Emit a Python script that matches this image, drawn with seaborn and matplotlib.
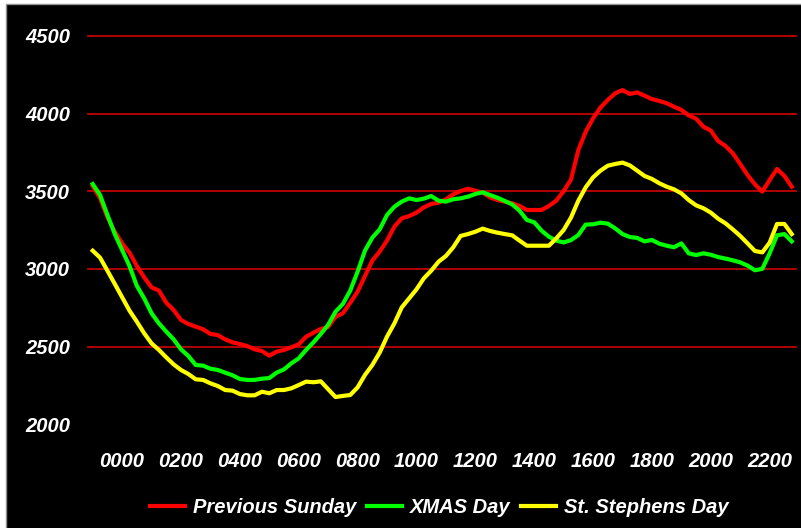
import numpy as np
import pandas as pd
import matplotlib
matplotlib.use("Agg")
import matplotlib.pyplot as plt
import seaborn as sns
from matplotlib.patches import Rectangle

# quarter-hour readings, 23:00 the evening before through 22:45
previous_sunday = [3533, 3454, 3332, 3239, 3164, 3104, 3018, 2945, 2881, 2860, 2782, 2735,
                   2671, 2645, 2628, 2611, 2581, 2574, 2546, 2527, 2516, 2503, 2482, 2471,
                   2441, 2467, 2478, 2495, 2514, 2563, 2589, 2613, 2626, 2692, 2714, 2782,
                   2853, 2954, 3053, 3111, 3182, 3272, 3325, 3340, 3362, 3396, 3418, 3426,
                   3448, 3480, 3501, 3516, 3503, 3491, 3460, 3443, 3433, 3422, 3405, 3379,
                   3379, 3379, 3405, 3439, 3500, 3575, 3765, 3883, 3969, 4038, 4087, 4130,
                   4151, 4126, 4136, 4115, 4093, 4081, 4066, 4044, 4023, 3988, 3967, 3915,
                   3890, 3823, 3791, 3744, 3675, 3604, 3544, 3497, 3572, 3643, 3598, 3529]
xmas_day = [3546, 3475, 3347, 3224, 3121, 3018, 2890, 2810, 2714, 2649, 2596, 2546,
            2482, 2439, 2381, 2377, 2357, 2349, 2332, 2315, 2291, 2285, 2285, 2293,
            2297, 2332, 2353, 2392, 2424, 2478, 2527, 2581, 2640, 2724, 2774, 2860,
            2982, 3117, 3201, 3254, 3347, 3400, 3433, 3454, 3443, 3452, 3469, 3439,
            3433, 3448, 3454, 3465, 3482, 3493, 3475, 3458, 3437, 3415, 3375, 3315,
            3300, 3246, 3207, 3182, 3170, 3185, 3218, 3285, 3287, 3297, 3291, 3261,
            3224, 3205, 3199, 3177, 3186, 3162, 3149, 3139, 3164, 3100, 3089, 3100,
            3091, 3076, 3066, 3055, 3042, 3021, 2991, 3000, 3100, 3216, 3224, 3177]
st_stephens_day = [3117, 3072, 2988, 2903, 2817, 2731, 2660, 2585, 2520, 2478, 2430, 2385,
                   2349, 2323, 2289, 2285, 2263, 2246, 2220, 2216, 2194, 2186, 2186, 2209,
                   2199, 2220, 2220, 2231, 2252, 2274, 2270, 2276, 2225, 2175, 2182, 2188,
                   2237, 2317, 2381, 2461, 2564, 2649, 2752, 2810, 2868, 2939, 2988, 3046,
                   3083, 3139, 3212, 3224, 3239, 3259, 3244, 3233, 3224, 3216, 3182, 3149,
                   3149, 3149, 3149, 3196, 3250, 3330, 3439, 3525, 3589, 3632, 3664, 3675,
                   3684, 3666, 3632, 3598, 3579, 3551, 3529, 3512, 3486, 3443, 3409, 3390,
                   3362, 3323, 3293, 3254, 3212, 3164, 3115, 3106, 3169, 3289, 3289, 3224]

series_names = ["Previous Sunday", "XMAS Day", "St. Stephens Day"]
series_colors = ["#ff0000", "#00ff00", "#ffff00"]
hour_labels = ["0000", "0200", "0400", "0600", "0800", "1000",
               "1200", "1400", "1600", "1800", "2000", "2200"]
y_ticks = [2000, 2500, 3000, 3500, 4000, 4500]

slot = np.arange(len(previous_sunday))
df = pd.DataFrame({"slot": slot,
                   series_names[0]: previous_sunday,
                   series_names[1]: xmas_day,
                   series_names[2]: st_stephens_day})
long = df.melt(id_vars="slot", var_name="day", value_name="load")

plt.rcParams["font.family"] = ["Liberation Sans", "DejaVu Sans"]
plt.rcParams["font.weight"] = "bold"
plt.rcParams["font.style"] = "italic"
FS = 14.5

fig = plt.figure(figsize=(8.01, 5.28), dpi=100, facecolor="white")
fig.patches.append(Rectangle((6 / 801, -0.1), 1.2, 1.1 - 4 / 528, transform=fig.transFigure,
                             facecolor="black", edgecolor="#909090", lw=1, zorder=-10))
ax = fig.add_axes([88.3 / 801, (528 - 424.2) / 528, 707.4 / 801, (424.2 - 35.85) / 528])
ax.set_facecolor("none")
ax.set_zorder(1)

sns.lineplot(data=long, x="slot", y="load", hue="day", palette=series_colors,
             linewidth=3, ax=ax)

ax.set_xlim(-0.6, 95.54)
ax.set_ylim(2000, 4500)
ax.set_xticks(slot[4::8])
ax.set_xticklabels(hour_labels)
ax.set_yticks(y_ticks)
ax.set_xlabel("")
ax.set_ylabel("")
ax.tick_params(axis="both", length=0, colors="white", labelsize=FS)
ax.tick_params(axis="x", pad=20)
ax.tick_params(axis="y", pad=13)
for lab in ax.get_xticklabels() + ax.get_yticklabels():
    lab.set_fontweight("bold")
    lab.set_fontstyle("italic")
for s in ax.spines.values():
    s.set_visible(False)

ax.grid(axis="y", color="#c00000", linewidth=1.3)
ax.grid(axis="x", visible=False)
ax.set_axisbelow(True)
gl = ax.get_ygridlines()
gl[0].set_visible(False)
for g in gl:
    g.set_clip_on(False)

handles, labels = ax.get_legend_handles_labels()
ax.get_legend().remove()
leg = fig.legend(handles, labels, loc="center", bbox_to_anchor=(439.5 / 801, 1 - 507.3 / 528),
                 ncol=3, frameon=False, handlelength=1.75, handletextpad=0.4,
                 columnspacing=0.5, prop={"size": FS, "weight": "bold", "style": "italic"})
for t in leg.get_texts():
    t.set_color("white")
for h in leg.legend_handles:
    h.set_linewidth(3)

fig.savefig("out.png", dpi=100, facecolor=fig.get_facecolor())
